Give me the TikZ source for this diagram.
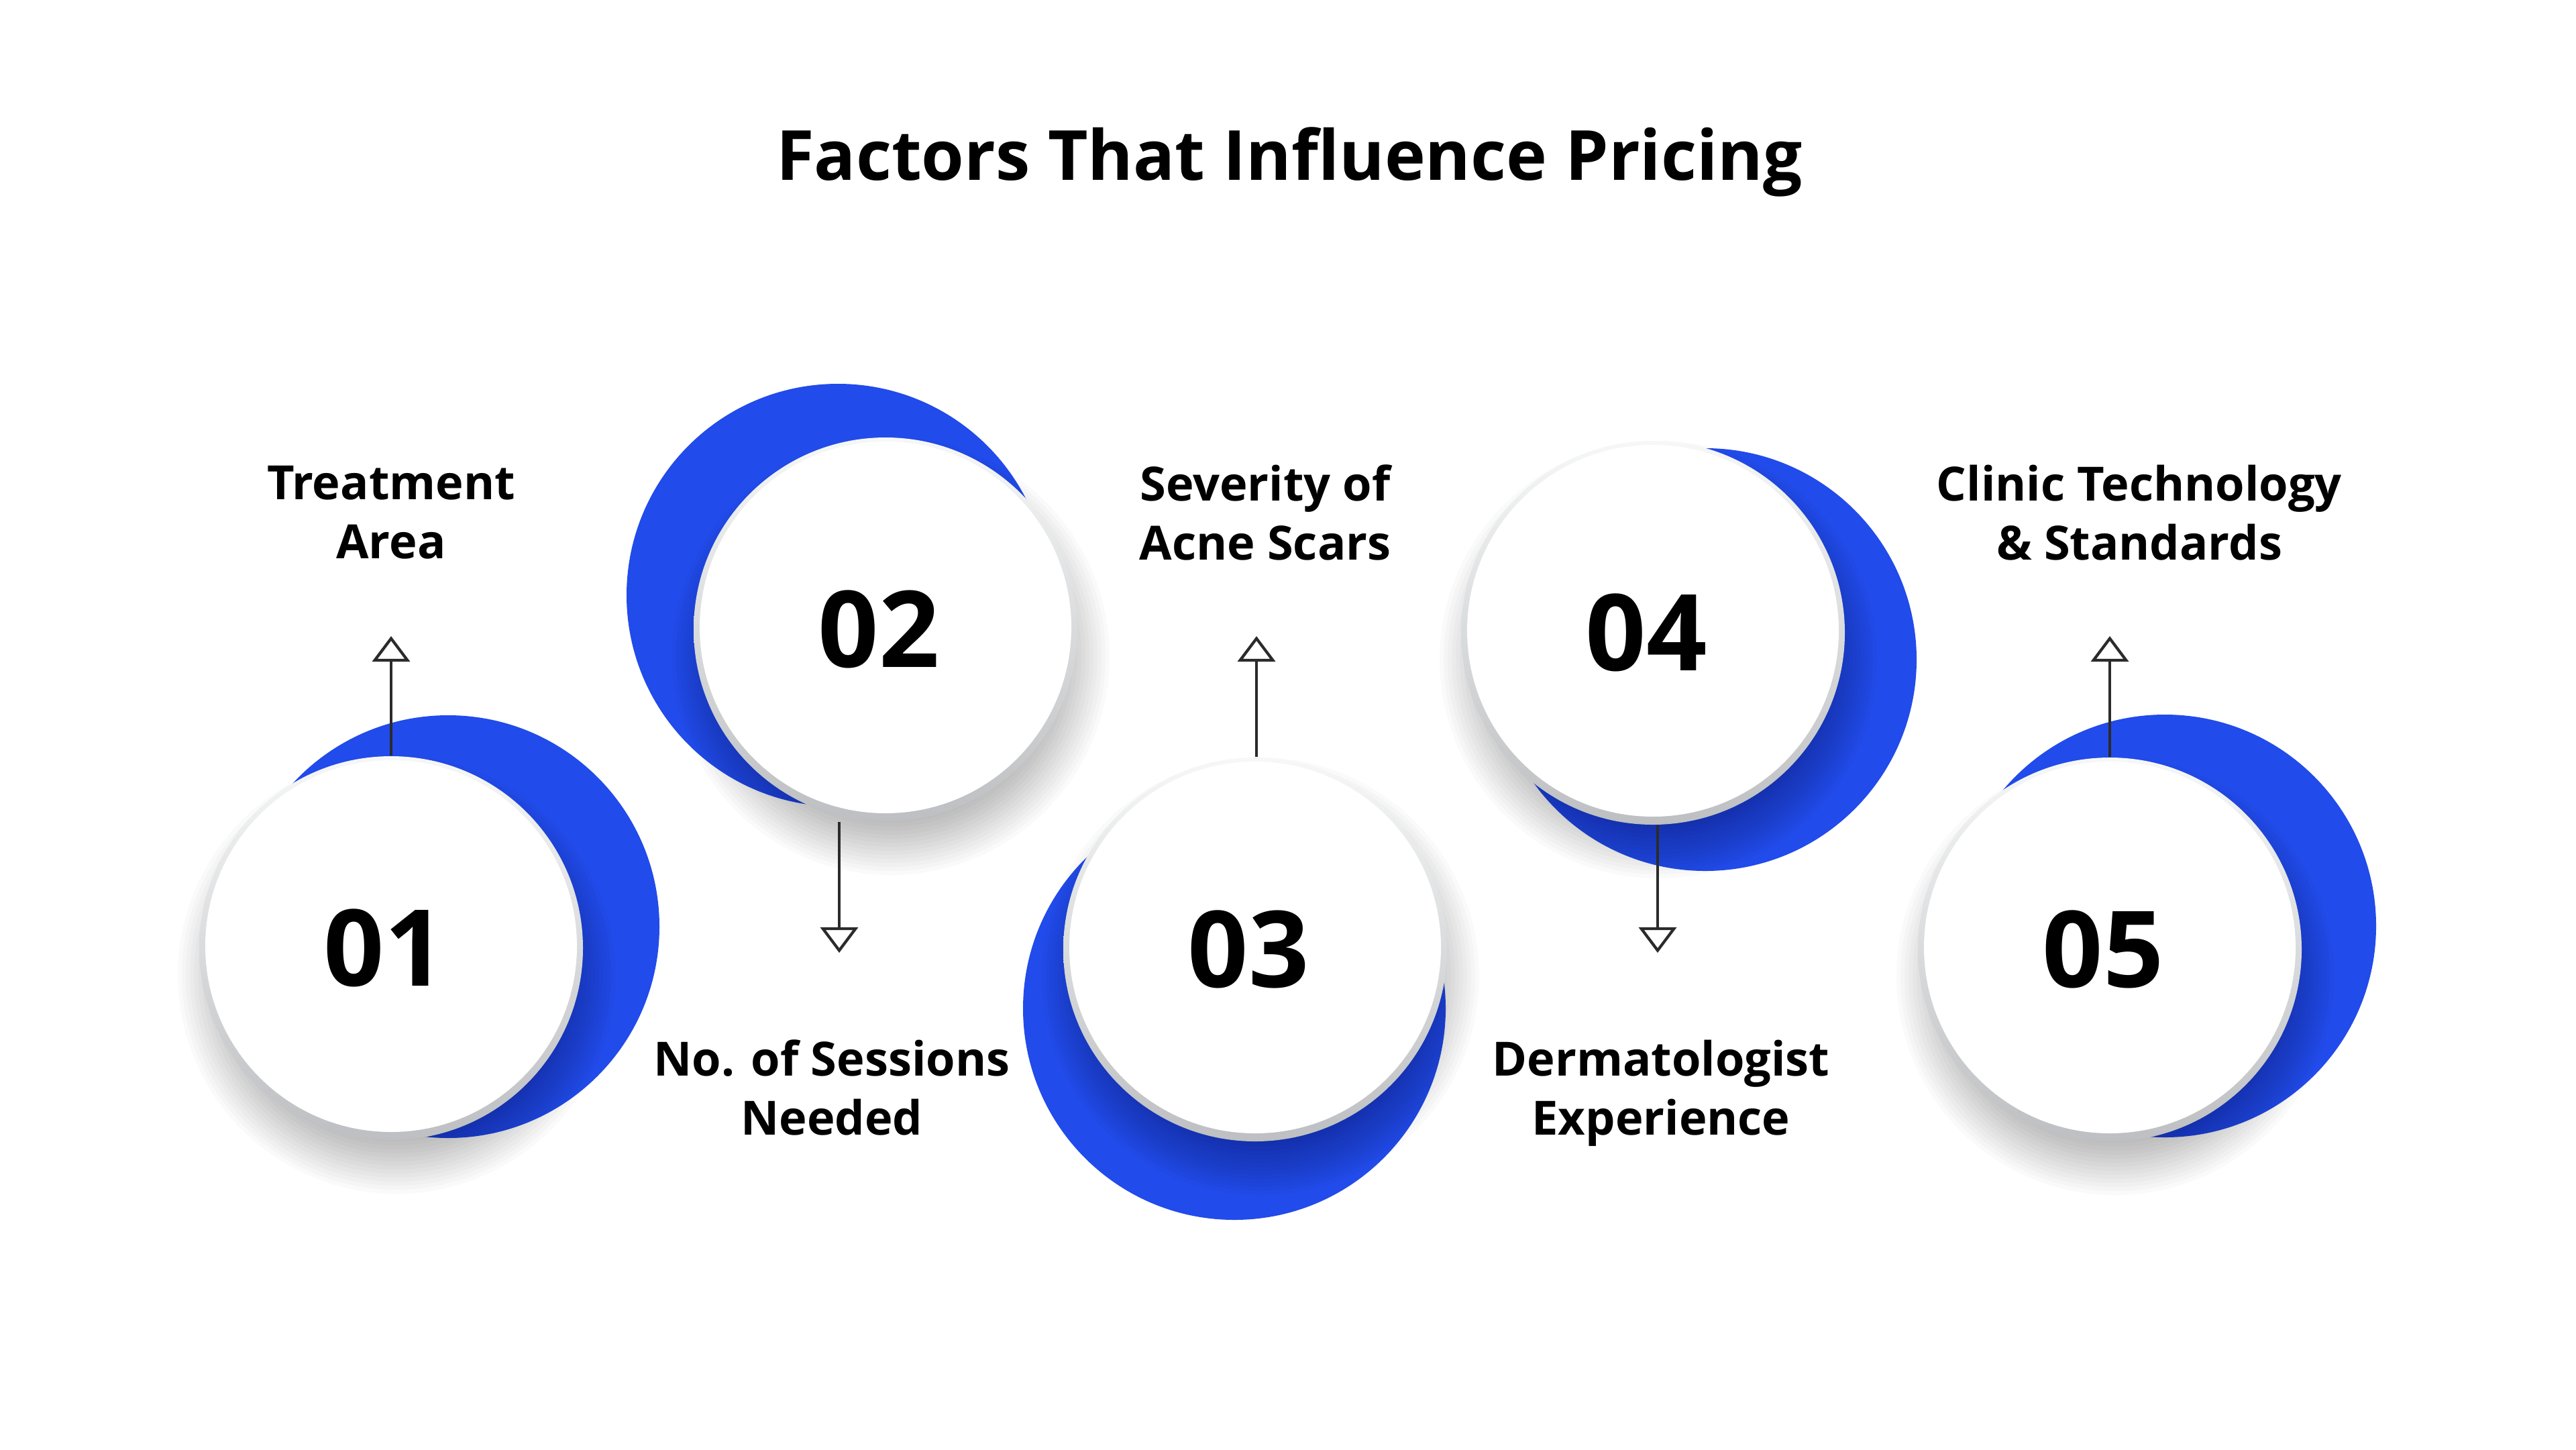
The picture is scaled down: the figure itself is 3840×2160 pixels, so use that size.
\documentclass[tikz,border=0pt]{standalone}
\usepackage{fontspec}
\setmainfont{Open Sans}
\usetikzlibrary{arrows.meta}
\definecolor{myblue}{HTML}{214BEA}
\definecolor{ink}{HTML}{2B2B2B}
\definecolor{ringtop}{HTML}{F6F7F7}
\definecolor{ringbot}{HTML}{BDBFC2}
\tikzset{
  numtext/.style={font=\fontsize{45pt}{50pt}\selectfont\bfseries, text=black},
  labeltext/.style={font=\fontsize{20pt}{25pt}\selectfont\bfseries, align=center, text=black},
  titletext/.style={font=\fontsize{29.3pt}{36pt}\selectfont\bfseries, text=black},
  arr/.style={draw=ink, line width=1.2pt, -{Triangle[open, fill=white, length=0.38cm, width=0.56cm, line width=1.2pt]}},
  hole/.style={circle, minimum size=5.72cm, inner sep=0pt}
}
\newcommand\dfactor[6]{%
  \fill[myblue] (#3,#4) circle (315);
  \foreach \k in {0,...,14}{\fill[black,opacity=0.02] (#1+8,#2+40) circle ({326-6*\k});}
  \shade[top color=ringtop,bottom color=ringbot] (#1,#2) circle (286);
  \fill[white] (#1,#2-3) circle (277);
  \node[hole] (#6) at (#1,#2) {};
  \node[numtext] (n#6) at (#1-10,#2) {#5};
}
\begin{document}
\begin{tikzpicture}[x=0.01cm,y=-0.01cm]
\fill[white] (0,0) rectangle (3840,2160);
\useasboundingbox (0,0) rectangle (3840,2160);

\node[titletext] (title) at (1922,241) {Factors That Influence Pricing};

\dfactor{583}{1413}{668}{1381}{01}{c1}
\dfactor{1320}{938}{1249}{887}{02}{c2}
\dfactor{1871}{1415}{1840}{1503}{03}{c3}
\dfactor{2464}{943}{2542}{983}{04}{c4}
\dfactor{3145}{1415}{3227}{1380}{05}{c5}

\coordinate (t1) at (583,948);
\coordinate (t2) at (1251,1420);
\coordinate (t3) at (1873,948);
\coordinate (t4) at (2471,1420);
\coordinate (t5) at (3145,948);

\draw[arr] (t1 |- c1.north) -- (t1);
\draw[arr] (t2 |- c2.south) -- (t2);
\draw[arr] (t3 |- c3.north) -- (t3);
\draw[arr] (t4 |- c4.south) -- (t4);
\draw[arr] (t5 |- c5.north) -- (t5);

\node[labeltext] (l1) at (583,764) {Treatment\\Area};
\node[labeltext] (l2) at (1240,1621) {No. of Sessions\\Needed};
\node[labeltext] (l3) at (1886,764) {Severity of\\Acne Scars};
\node[labeltext] (l4) at (2476,1629) {Dermatologist\\Experience};
\node[labeltext] (l5) at (3189,764) {Clinic Technology\\\& Standards};
\end{tikzpicture}
\end{document}
